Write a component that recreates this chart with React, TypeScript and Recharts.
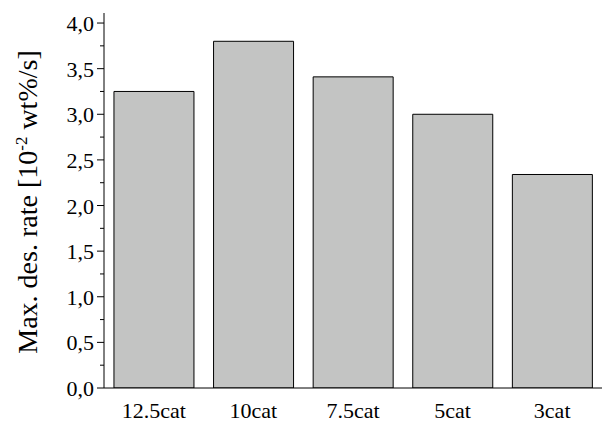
import React from "react";
import { BarChart, Bar, XAxis, YAxis } from "recharts";

const categories = ["12.5cat", "10cat", "7.5cat", "5cat", "3cat"];
const rates = [3.25, 3.8, 3.41, 3.0, 2.34];
const yTicks = [0, 0.25, 0.5, 0.75, 1, 1.25, 1.5, 1.75, 2, 2.25, 2.5, 2.75, 3, 3.25, 3.5, 3.75, 4];

const data = categories.map((c, i) => ({ name: c, rate: rates[i] }));

const FONT = "'Liberation Serif', 'Times New Roman', serif";

const renderYTick = (props: any) => {
  const { x, y, payload } = props;
  const v = payload.value as number;
  const major = Math.abs(v * 2 - Math.round(v * 2)) < 1e-6;
  return (
    <g key={`yt-${v}`}>
      <line x1={x - (major ? 7 : 4)} x2={x} y1={y} y2={y} stroke="#000" strokeWidth={1} />
      {major && (
        <text x={x - 10} y={y + 8} textAnchor="end" fontFamily={FONT} fontSize={22} fill="#000">
          {v.toFixed(1).replace(".", ",")}
        </text>
      )}
    </g>
  );
};

const renderXTick = (props: any) => {
  const { x, y, payload } = props;
  return (
    <text key={`xt-${payload.value}`} x={x} y={y + 30} textAnchor="middle" fontFamily={FONT} fontSize={22} fill="#000">
      {payload.value}
    </text>
  );
};

export default function App() {
  return (
    <div style={{ position: "absolute", left: 0, top: 0, background: "#fff" }}>
      <BarChart
        width={602}
        height={422}
        data={data}
        margin={{ top: 13, right: 0, bottom: 0, left: 0 }}
        barCategoryGap="10%"
      >
        <XAxis
          dataKey="name"
          height={34}
          tickLine={false}
          tickSize={0}
          tickMargin={0}
          axisLine={{ stroke: "#000", strokeWidth: 1 }}
          tick={renderXTick}
          interval={0}
        />
        <YAxis
          width={104}
          domain={[0, 4.11]}
          ticks={yTicks}
          interval={0}
          tickLine={false}
          tickSize={0}
          tickMargin={0}
          axisLine={{ stroke: "#000", strokeWidth: 1 }}
          tick={renderYTick}
          allowDataOverflow
        />
        <Bar dataKey="rate" fill="#c3c4c3" stroke="#000" strokeWidth={1} isAnimationActive={false} />
        <text
          transform="translate(37,202) rotate(-90)"
          textAnchor="middle"
          fontFamily={FONT}
          fontSize={28}
          fill="#000"
        >
          Max. des. rate [10
          <tspan dy={-10} fontSize={17}>-2</tspan>
          <tspan dy={10}> wt%/s]</tspan>
        </text>
      </BarChart>
    </div>
  );
}
